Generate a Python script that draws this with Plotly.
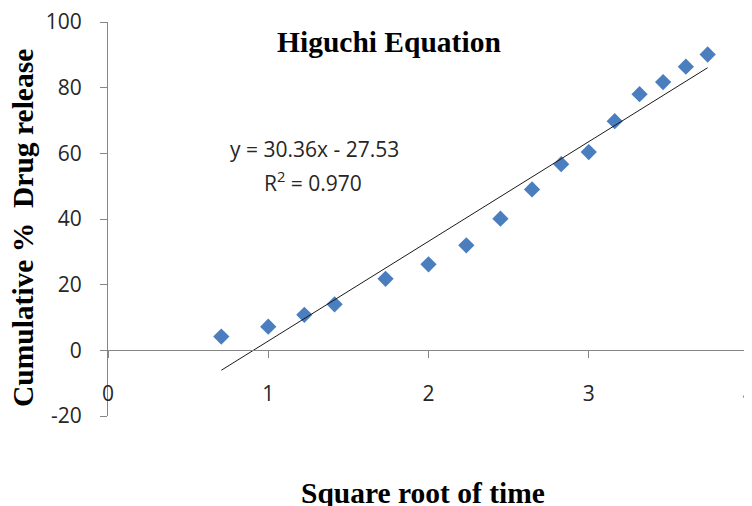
import plotly.graph_objects as go

# ---- data ----
sqrt_time = [0.707, 1.000, 1.225, 1.414, 1.732, 2.000, 2.236, 2.449,
             2.646, 2.828, 3.000, 3.162, 3.317, 3.464, 3.606, 3.742]
cum_release = [4.2, 7.2, 10.8, 14.0, 21.8, 26.2, 32.0, 40.1,
               49.0, 56.7, 60.4, 69.8, 78.0, 81.7, 86.4, 90.1]
trend_slope = 30.36
trend_intercept = -27.53
r_squared = 0.970
x_ticks = [0, 1, 2, 3, 4]
y_ticks = [-20, 0, 20, 40, 60, 80, 100]

title_text = "Higuchi Equation"
x_title = "Square root of time"
y_title = "Cumulative %  Drug release"

# ---- figure ----
x_lo, x_hi = min(sqrt_time), max(sqrt_time)
trend_x = [x_lo, x_hi]
trend_y = [trend_slope * v + trend_intercept for v in trend_x]

fig = go.Figure()
fig.add_trace(go.Scatter(
    x=sqrt_time, y=cum_release, mode="markers",
    marker=dict(symbol="diamond", size=12.5, color="#4A7EBE",
                line=dict(width=0)),
    showlegend=False, cliponaxis=False))
fig.add_trace(go.Scatter(
    x=trend_x, y=trend_y, mode="lines",
    line=dict(color="#1a1a1a", width=1),
    showlegend=False))

sans = dict(family="Open Sans", size=21, color="#262626")
serif = dict(family="Liberation Serif", size=29.5, color="#000000")

y_range = [-20, 100]
zero_pos = (0 - y_range[0]) / (y_range[1] - y_range[0])

axis_col = "#868686"
# page body has an 8px default margin, so the figure is 8px smaller
fig.update_layout(
    width=744, height=498,
    margin=dict(l=100, r=3, t=14, b=90, autoexpand=False),
    paper_bgcolor="white", plot_bgcolor="white",
    xaxis=dict(range=[0, 4], tickvals=x_ticks,
               ticktext=[str(v) for v in x_ticks],
               showgrid=False, zeroline=False, automargin=False,
               showline=True, linecolor=axis_col, linewidth=1,
               ticks="outside", ticklen=7, tickcolor=axis_col,
               anchor="free", position=zero_pos,
               ticklabeloverflow="allow",
               ticklabelstandoff=17, tickfont=sans),
    yaxis=dict(range=y_range, tickvals=y_ticks,
               ticktext=[str(v) for v in y_ticks],
               showgrid=False, zeroline=False, automargin=False,
               showline=True, linecolor=axis_col, linewidth=1,
               ticks="outside", ticklen=7, tickcolor=axis_col,
               ticklabeloverflow="allow",
               ticklabelstandoff=14, tickfont=sans),
    annotations=[
        dict(text="<b>%s</b>" % title_text, xref="paper", yref="paper",
             x=0.439, y=0.949, xanchor="center", yanchor="middle",
             showarrow=False, font=serif),
        dict(text="<b>%s</b>" % x_title, xref="paper", yref="paper",
             x=0.492, y=-0.195, xanchor="center", yanchor="middle",
             showarrow=False, font=serif),
        dict(text="<b>%s</b>" % y_title, xref="paper", yref="paper",
             x=-0.1326, y=0.477, xanchor="center", yanchor="middle",
             textangle=-90, showarrow=False, font=serif),
        dict(text="y = %.2fx - %.2f" % (trend_slope, abs(trend_intercept)),
             xref="x", yref="y", x=1.2855, y=61.2,
             xanchor="center", yanchor="middle", showarrow=False, font=sans),
        dict(text="R<sup>2</sup> = %.3f" % r_squared,
             xref="x", yref="y", x=1.279, y=51.5,
             xanchor="center", yanchor="middle", showarrow=False, font=sans),
    ],
)

fig.write_html("out.html")
